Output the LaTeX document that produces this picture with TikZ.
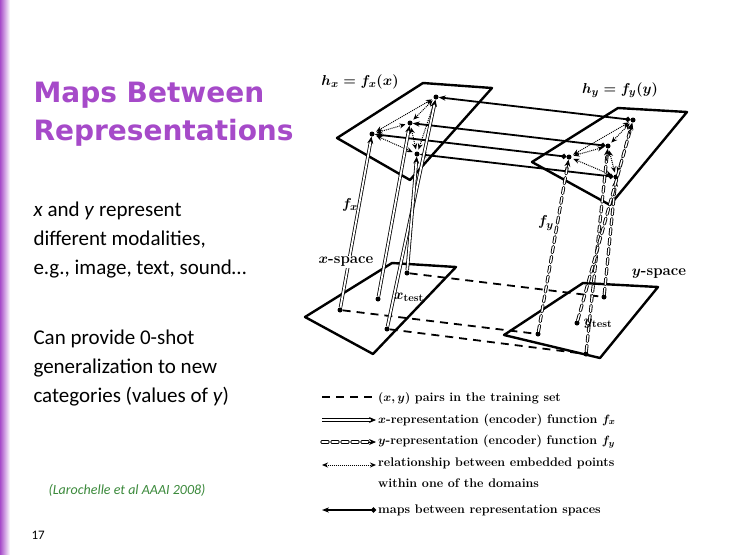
\documentclass[tikz,border=0pt]{standalone}
\usepackage{fontspec}
\usepackage{amsmath,bm}
\newfontfamily\bodyf{Carlito}
\newfontfamily\titlef{DejaVu Sans}
\usetikzlibrary{arrows.meta,calc}
\definecolor{ttl}{HTML}{A64AC9}
\definecolor{cite}{HTML}{3C8A3C}
\begin{document}
\begin{tikzpicture}[x=1pt,y=-1pt,
  plane/.style={line width=2.4pt,line join=round},
  pt/.style={circle,fill=black,inner sep=0pt,minimum size=5pt},
  rel/.style={densely dotted,line width=1pt,{Stealth[length=6pt,width=5pt]}-{Stealth[length=6pt,width=5pt]}},
  mapa/.style={line width=1.8pt,{Stealth[length=7pt]}-{Circle[length=5pt]}},
  pair/.style={line width=1.8pt,dash pattern=on 8pt off 6pt},
  encx/.style={draw=black,double=white,double distance=1.8pt,line width=0.8pt,-{Stealth[length=7pt,width=6pt]}},
  ency/.style={draw=white,line width=1.4pt,dash pattern=on 6pt off 4pt,line cap=round,
     preaction={draw=black,line width=3.2pt,dash pattern=on 6pt off 4pt,line cap=round}},
  lab/.style={font=\bfseries\boldmath\fontsize{15}{17}\selectfont,inner sep=1pt},
  leg/.style={font=\bfseries\boldmath\fontsize{12.5}{21}\selectfont,anchor=west,inner sep=0pt,align=left}]
\useasboundingbox (0,0) rectangle (740,555);
\fill[white] (0,0) rectangle (740,555);
\shade[left color=ttl,right color=white] (0,0) rectangle (10,555);
% text left
\node[anchor=west,text=ttl,font=\titlef\bfseries\fontsize{28}{38}\selectfont,align=left] (title) at (30,114) {Maps Between\\Representations};
\node[anchor=north west,font=\bodyf\fontsize{21}{29}\selectfont,align=left] (t1) at (30,198) {\textit{x} and \textit{y} represent\\different modalities,\\e.g., image, text, sound\dots};
\node[anchor=north west,font=\bodyf\fontsize{21}{29}\selectfont,align=left] (t2) at (30,326) {Can provide 0-shot\\generalization to new\\categories (values of \textit{y})};
\node[anchor=west,text=cite,font=\bodyf\itshape\fontsize{14}{16}\selectfont] (c) at (45,490) {(Larochelle et al AAAI 2008)};
\node[anchor=west,font=\bodyf\fontsize{13}{15}\selectfont] (n) at (28,535) {17};
% planes
\draw[plane] (423,83) -- (492,88) -- (410,180) -- (337,138) -- cycle;
\draw[plane] (618,108) -- (687,112) -- (610,205) -- (532,162) -- cycle;
\draw[plane] (392,263) -- (456,267) -- (373,354) -- (305,317) -- cycle;
\draw[plane] (583,283) -- (658,287) -- (600,358) -- (504,335) -- cycle;
% points
\node[pt] (p1) at (372,134) {}; \node[pt] (p2) at (410,123) {};
\node[pt] (p3) at (436,97) {};  \node[pt] (p4) at (417,154) {};
\node[pt] (q1) at (633,120) {}; \node[pt] (q2) at (608,146) {};
\node[pt] (q3) at (569,157) {}; \node[pt] (q4) at (616,177) {};
\node[pt] (a1) at (340,310) {}; \node[pt] (a2) at (378,299) {};
\node[pt] (a3) at (387,329) {}; \node[pt] (a4) at (407,273) {};
\node[pt] (b1) at (538,334) {}; \node[pt] (b2) at (586,354) {};
\node[pt] (b3) at (604,297) {}; \node[pt] (b4) at (577,323) {};
% pairs
\draw[pair] (a1) -- (b1); \draw[pair] (a3) -- (b2); \draw[pair] (a4) -- (b3);
% relations
\foreach \u/\v in {p1/p2,p1/p3,p1/p4,p2/p4,p3/p4,p2/p3,q1/q2,q1/q3,q3/q4,q2/q4,q1/q4,q2/q3}
  \draw[rel,shorten <=2pt,shorten >=2pt] (\u) -- (\v);
% maps
\draw[mapa] (p3) -- (q1); \draw[mapa] (p2) -- (q2);
\draw[mapa] (p1) -- (q3); \draw[mapa] (p4) -- (q4);
% encoders
\draw[encx] (a1) -- (p1); \draw[encx] (a2) -- (p2);
\draw[encx] (a3) -- (p3); \draw[encx] (a4) -- (p4);
\foreach \u/\v in {b1/q3,b2/q2,b3/q4,b4/q1}{
  \draw[ency,shorten >=7pt] (\u) -- (\v);
  \draw[-{Stealth[length=7pt,width=6pt]},line width=0.8pt] ($(\u)!0.93!(\v)$) -- (\v);}
% labels
\node[lab] (lhx) at (360,82) {$h_x = f_x(x)$};
\node[lab] (lhy) at (620,90) {$h_y = f_y(y)$};
\node[lab] (lfx) at (350,205) {$f_x$};
\node[lab] (lfy) at (546,223) {$f_y$};
\node[lab,fill=white] (lxs) at (346,262) {$x$-space};
\node[lab,fill=white] (lys) at (659,274) {$y$-space};
\node[lab] (lxt) at (409,297) {$x_{\text{test}}$};
\node[lab] (lyt) at (598,324) {$y_{\text{test}}$};
% legend
\coordinate (s1) at (322,397); \coordinate (e1) at (376,397);
\coordinate (s2) at (322,420); \coordinate (e2) at (376,420);
\coordinate (s3) at (322,442); \coordinate (e3) at (376,442);
\coordinate (m3) at (368,442);
\coordinate (s4) at (322,465); \coordinate (e4) at (376,465);
\coordinate (s5) at (322,510); \coordinate (e5) at (376,510);
\draw[pair] (s1) -- (e1);
\draw[encx] (s2) -- (e2);
\draw[ency,shorten >=7pt] (s3) -- (e3);
\draw[-{Stealth[length=7pt,width=6pt]},line width=0.8pt] (m3) -- (e3);
\draw[rel] (s4) -- (e4);
\draw[line width=1.8pt,{Stealth[length=7pt]}-{Circle[length=5pt]}] (s5) -- (e5);
\node[leg] (g1) at (378,398) {$(x,y)$ pairs in the training set};
\node[leg] (g2) at (378,420) {$x$-representation (encoder) function $f_x$};
\node[leg] (g3) at (378,442) {$y$-representation (encoder) function $f_y$};
\node[leg,anchor=north west] (g4) at (378,458) {relationship between embedded points\\within one of the domains};
\node[leg] (g5) at (378,510) {maps between representation spaces};
\end{tikzpicture}
\end{document}
